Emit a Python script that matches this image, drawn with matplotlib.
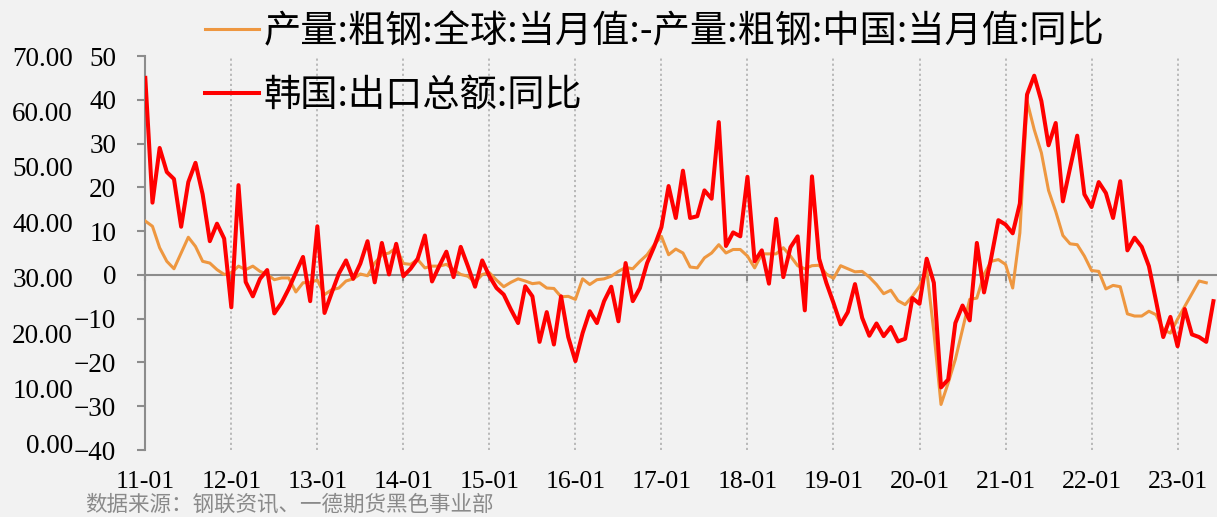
import numpy as np
import matplotlib.pyplot as plt

plt.rcParams['font.family'] = ['Noto Sans CJK SC', 'DejaVu Sans']

# monthly year-on-year values, 2011-01 onwards
steel_diff = [
    12.3, 11.1, 6.2, 3.1, 1.4, 5.0, 8.6, 6.5, 3.1, 2.7, 1.2, 0.1,
    0.5, 2.0, 1.2, 2.0, 0.8, 0.1, -1.1, -0.7, -0.7, -3.9, -1.8, -1.7,
    -1.2, -4.5, -3.4, -3.0, -1.4, -0.9, 0.2, -0.2, 2.7, 4.6, 5.0, 6.2,
    2.6, 2.4, 3.5, 1.6, 2.0, 2.0, 2.4, 1.2, 0.1, -0.3, -1.7, 0.1,
    0.5, -1.2, -2.7, -1.7, -0.9, -1.4, -2.0, -1.8, -3.0, -3.1, -5.0, -4.9,
    -5.6, -0.9, -2.2, -1.1, -0.9, -0.3, 0.8, 1.7, 1.4, 3.1, 4.6, 6.9,
    8.8, 4.6, 5.9, 5.0, 1.8, 1.6, 3.9, 5.0, 6.9, 5.0, 5.8, 5.8,
    4.3, 1.6, 4.8, 4.8, 4.8, 6.2, 4.3, 2.1, 1.4, 2.1, 2.2, 0.2,
    -0.8, 2.1, 1.4, 0.7, 0.8, -0.5, -2.2, -4.3, -3.5, -5.9, -6.8, -4.9,
    -2.6, 1.2, -13.0, -29.6, -24.7, -19.3, -12.5, -5.6, -5.3, 0.1, 3.1, 3.5,
    2.4, -3.0, 9.6, 39.7, 33.2, 27.9, 19.3, 14.5, 9.0, 7.1, 6.9, 4.3,
    1.0, 0.8, -3.2, -2.4, -2.7, -8.9, -9.4, -9.4, -8.3, -9.1, -12.5, -13.3,
    -10.1, -7.2, -4.3, -1.4, -1.8,
]
korea_export = [
    45.0, 16.5, 29.0, 23.5, 21.9, 11.0, 21.2, 25.6, 18.4, 7.7, 11.7, 8.3,
    -7.4, 20.5, -1.6, -4.9, -0.9, 1.1, -8.8, -6.4, -3.2, 0.5, 4.1, -6.0,
    11.1, -8.7, -4.1, 0.3, 3.3, -0.9, 2.6, 7.7, -1.7, 7.3, 0.1, 7.1,
    -0.3, 1.4, 3.7, 9.0, -1.5, 2.0, 5.3, -0.5, 6.4, 2.0, -2.7, 3.3,
    -0.3, -3.0, -4.5, -7.9, -11.0, -2.6, -4.9, -15.3, -8.5, -15.9, -4.9, -14.2,
    -19.7, -13.3, -8.3, -11.0, -6.0, -2.7, -10.6, 2.7, -6.0, -3.0, 2.7, 6.5,
    10.9, 20.3, 13.0, 23.8, 13.0, 13.4, 19.3, 17.4, 34.9, 6.6, 9.7, 8.8,
    22.4, 3.1, 5.6, -2.0, 12.8, -0.5, 6.3, 8.8, -8.1, 22.5, 3.7, -1.8,
    -6.4, -11.3, -8.5, -2.1, -9.8, -13.9, -11.1, -14.0, -11.9, -15.2, -14.6, -5.3,
    -6.6, 3.7, -1.8, -25.7, -23.9, -11.0, -7.0, -10.4, 7.3, -4.0, 3.9, 12.5,
    11.5, 9.5, 16.3, 41.2, 45.5, 39.7, 29.6, 34.7, 16.8, 24.4, 31.8, 18.4,
    15.5, 21.2, 18.7, 13.0, 21.4, 5.6, 8.5, 6.4, 2.0, -6.0, -14.2, -9.6,
    -16.3, -7.8, -13.6, -14.2, -15.3, -6.0,
]
year_labels = ['11-01', '12-01', '13-01', '14-01', '15-01', '16-01', '17-01',
               '18-01', '19-01', '20-01', '21-01', '22-01', '23-01']
steel_name = '产量:粗钢:全球:当月值:-产量:粗钢:中国:当月值:同比'
korea_name = '韩国:出口总额:同比'
source = '数据来源：钢联资讯、一德期货黑色事业部'

W, H = 1217, 517
bg = '#f2f2f2'
grey = '#8c8c8c'
serif = 'Liberation Serif'

fig = plt.figure(figsize=(W / 100, H / 100), dpi=100, facecolor=bg)
ax = fig.add_axes([145.3 / W, 1 - 450 / H, (W - 145.3) / W, 394 / H])
ax.set_facecolor(bg)

x_steel = np.arange(len(steel_diff))
x_korea = np.arange(len(korea_export))
year_pos = np.arange(len(year_labels)) * 12

ax.set_xlim(0, 149.5)
ax.set_ylim(-40, 50)
for xp in year_pos[1:]:
    ax.axvline(xp, color='#b4b4b4', lw=1.3, ls=(0, (1.2, 1.6)), zorder=1)

ax.plot(x_steel, steel_diff, color='#ee9740', lw=2.2, label=steel_name, zorder=3)
ax.plot(x_korea, korea_export, color='#ff0000', lw=2.9, label=korea_name, zorder=4)

# spines: left axis line and the zero line with year ticks
for s in ['top', 'right']:
    ax.spines[s].set_visible(False)
ax.spines['left'].set_color(grey)
ax.spines['left'].set_linewidth(1.5)
ax.spines['bottom'].set_position(('data', 0))
ax.spines['bottom'].set_color(grey)
ax.spines['bottom'].set_linewidth(1.5)
ax.spines['bottom'].set_zorder(2)

ax.set_yticks(np.arange(-40, 51, 10))
ax.tick_params(axis='y', direction='out', length=6, width=1.5, color=grey,
               pad=15, labelsize=19.5)
ax.set_xticks(year_pos)
ax.tick_params(axis='x', direction='out', length=4, width=1.5, color=grey,
               labelbottom=False)
for lab in ax.get_yticklabels():
    lab.set_fontfamily(serif)

# outer left scale and the year labels at the bottom
ax2 = ax.twinx()
ax2.set_ylim(-1.1, 70)
ax2.set_yticks(np.arange(0, 71, 10))
ax2.yaxis.tick_left()
ax2.yaxis.set_major_formatter(plt.FormatStrFormatter('%.2f'))
ax2.tick_params(axis='y', length=0, pad=52, labelsize=19.5)
for s in ax2.spines.values():
    s.set_visible(False)
ax2.xaxis.set_visible(True)
ax2.set_xticks(year_pos)
ax2.set_xticklabels(year_labels)
ax2.tick_params(axis='x', length=0, pad=15, labelsize=18.5)
for lab in ax2.get_yticklabels() + ax2.get_xticklabels():
    lab.set_fontfamily(serif)

leg = ax.legend(loc='upper left', bbox_to_anchor=(205 / W, 1 - 12 / H),
                bbox_transform=fig.transFigure, frameon=False, fontsize=26.8,
                handlelength=1.45, handletextpad=0.12, labelspacing=0.67,
                borderpad=0, borderaxespad=0)
leg.set_zorder(10)

fig.text(85 / W, 1 - 505 / H, source, va='center', ha='left',
         color='#8a8a8a', fontsize=15.5)

fig.savefig('out.png', dpi=100, facecolor=bg)
